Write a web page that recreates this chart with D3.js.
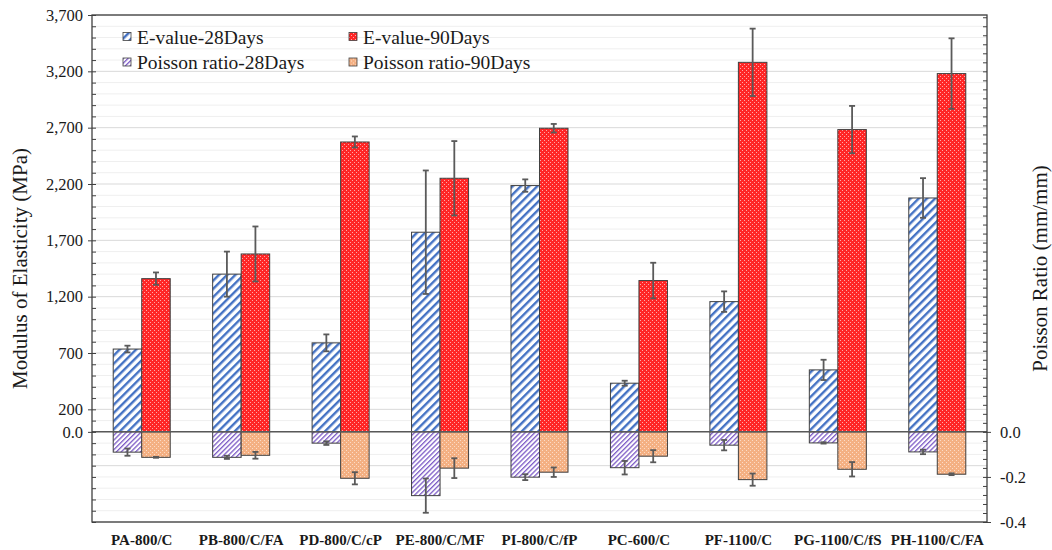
<!DOCTYPE html>
<html>
<head>
<meta charset="utf-8">
<script src="https://cdn.jsdelivr.net/npm/d3@7"></script>
<style>
  body { margin: 0; background: #fff; }
  .chart text { font-family: "Liberation Serif", "Times New Roman", serif; fill: #1a1a1a; }
</style>
</head>
<body>
<div class="chart"></div>
<script>
// values
const categories = ["PA-800/C", "PB-800/C/FA", "PD-800/C/cP", "PE-800/C/MF", "PI-800/C/fP",
  "PC-600/C", "PF-1100/C", "PG-1100/C/fS", "PH-1100/C/FA"];
const eValue28 = [735, 1400, 790, 1772, 2186, 432, 1156, 550, 2076];
const eValue28Err = [30, 200, 75, 548, 55, 22, 91, 90, 176];
const eValue90 = [1360, 1579, 2573, 2251, 2695, 1343, 3280, 2683, 3180];
const eValue90Err = [55, 244, 49, 330, 38, 158, 299, 210, 313];
const poisson28 = [-0.090, -0.113, -0.050, -0.283, -0.201, -0.159, -0.059, -0.049, -0.089];
const poisson28Err = [0.016, 0.007, 0.008, 0.076, 0.013, 0.030, 0.023, 0.003, 0.010];
const poisson90 = [-0.113, -0.104, -0.206, -0.161, -0.179, -0.108, -0.212, -0.166, -0.188];
const poisson90Err = [0.002, 0.015, 0.027, 0.044, 0.021, 0.027, 0.027, 0.032, 0.004];
const leftTicks = [0, 200, 700, 1200, 1700, 2200, 2700, 3200, 3700];
const rightTicks = [0, -0.2, -0.4];
const seriesNames = ["E-value-28Days", "E-value-90Days", "Poisson ratio-28Days", "Poisson ratio-90Days"];

class Chart {
  constructor() {
    this.sizes = {
      width: 1052,
      height: 550,
      margin: { top: 15, right: 65, bottom: 28, left: 92 }
    };
    this.render();
  }

  render() {
    this.drawCanvas().addPatterns().createScale().addGrid().addBars().addErrorBars().addAxis().addLegend();
  }

  drawCanvas() {
    const { width, height } = this.sizes;
    this.svg = d3.select(".chart").append("svg").attr("width", width).attr("height", height);
    return this;
  }

  addPatterns() {
    const defs = this.svg.append("defs");

    const stripes = (id, size, thick, color) => {
      const p = defs.append("pattern").attr("id", id)
        .attr("patternUnits", "userSpaceOnUse")
        .attr("width", size).attr("height", size)
        .attr("patternTransform", "rotate(45)");
      p.append("rect").attr("width", size).attr("height", size).attr("fill", "#fff");
      p.append("rect").attr("width", thick).attr("height", size).attr("fill", color);
    };
    stripes("blueStripe", 5.8, 2.4, "#4472c4");
    stripes("purpleStripe", 3.4, 1.3, "#7d5bc6");

    const dots = (id, base, dot) => {
      const p = defs.append("pattern").attr("id", id)
        .attr("patternUnits", "userSpaceOnUse")
        .attr("width", 4).attr("height", 4);
      p.append("rect").attr("width", 4).attr("height", 4).attr("fill", base);
      p.append("rect").attr("width", 1).attr("height", 1).attr("fill", dot);
      p.append("rect").attr("x", 2).attr("y", 2).attr("width", 1).attr("height", 1).attr("fill", dot);
    };
    dots("redDots", "#ff2626", "#ffa8a8");
    dots("orangeDots", "#f4b083", "#fbdcc6");
    return this;
  }

  createScale() {
    const { width, height, margin } = this.sizes;
    this.left = margin.left;
    this.right = width - margin.right;
    this.top = margin.top;
    this.bottom = height - margin.bottom;

    this.xScale = d3.scaleBand().domain(categories).range([this.left, this.right]).padding(0);
    this.xSub = d3.scaleBand().domain(["d28", "d90"])
      .range([0, this.xScale.bandwidth()])
      .paddingInner(0).paddingOuter(0.744);

    this.yLeft = d3.scaleLinear().domain([-800, 3700]).range([this.bottom, this.top]);
    this.yRight = d3.scaleLinear().domain([-0.4, 1.85]).range([this.bottom, this.top]);
    return this;
  }

  addGrid() {
    const levels = d3.range(-8, 38).map(i => i * 100);
    this.svg.append("g").attr("class", "grid")
      .selectAll("line")
      .data(levels)
      .join("line")
      .attr("x1", this.left).attr("x2", this.right)
      .attr("y1", d => this.yLeft(d)).attr("y2", d => this.yLeft(d))
      .attr("stroke", d => ((d - 200) % 500 === 0 ? "#d9d9d9" : "#efefef"))
      .attr("stroke-width", 1);
    return this;
  }

  barData() {
    const rows = [];
    categories.forEach((c, i) => {
      rows.push({ cat: c, sub: "d28", v: eValue28[i], err: eValue28Err[i], y: this.yLeft, fill: "url(#blueStripe)" });
      rows.push({ cat: c, sub: "d90", v: eValue90[i], err: eValue90Err[i], y: this.yLeft, fill: "url(#redDots)" });
      rows.push({ cat: c, sub: "d28", v: poisson28[i], err: poisson28Err[i], y: this.yRight, fill: "url(#purpleStripe)" });
      rows.push({ cat: c, sub: "d90", v: poisson90[i], err: poisson90Err[i], y: this.yRight, fill: "url(#orangeDots)" });
    });
    return rows;
  }

  addBars() {
    this.rows = this.barData();
    this.svg.append("g").attr("class", "bars")
      .selectAll("rect")
      .data(this.rows)
      .join("rect")
      .attr("x", d => this.xScale(d.cat) + this.xSub(d.sub))
      .attr("width", this.xSub.bandwidth())
      .attr("y", d => Math.min(d.y(d.v), d.y(0)))
      .attr("height", d => Math.abs(d.y(d.v) - d.y(0)))
      .attr("fill", d => d.fill)
      .attr("stroke", "#404040")
      .attr("stroke-width", 1);

    // zero line
    this.svg.append("line")
      .attr("x1", this.left).attr("x2", this.right)
      .attr("y1", this.yLeft(0)).attr("y2", this.yLeft(0))
      .attr("stroke", "#595959").attr("stroke-width", 1.5);
    return this;
  }

  addErrorBars() {
    const cx = d => this.xScale(d.cat) + this.xSub(d.sub) + this.xSub.bandwidth() / 2;
    const g = this.svg.append("g").attr("class", "errors")
      .selectAll("g")
      .data(this.rows)
      .join("g")
      .attr("stroke", "#5a5a5a")
      .attr("stroke-width", 1.8);

    g.append("line")
      .attr("x1", cx).attr("x2", cx)
      .attr("y1", d => d.y(d.v - d.err)).attr("y2", d => d.y(d.v + d.err));
    g.append("line")
      .attr("x1", d => cx(d) - 3).attr("x2", d => cx(d) + 3)
      .attr("y1", d => d.y(d.v - d.err)).attr("y2", d => d.y(d.v - d.err));
    g.append("line")
      .attr("x1", d => cx(d) - 3).attr("x2", d => cx(d) + 3)
      .attr("y1", d => d.y(d.v + d.err)).attr("y2", d => d.y(d.v + d.err));
    return this;
  }

  addAxis() {
    const axisColor = "#404040";

    const yAxis = d3.axisLeft(this.yLeft).tickValues(leftTicks).tickSize(4).tickPadding(5)
      .tickFormat(d => (d === 0 ? "0.0" : d3.format(",")(d)));
    const yAxisGroup = this.svg.append("g").attr("transform", `translate(${this.left},0)`).call(yAxis);
    yAxisGroup.selectAll("text").style("font-size", "16.5px");

    const yMinor = d3.axisLeft(this.yLeft).tickValues(d3.range(-8, 38).map(i => i * 100))
      .tickSize(-4).tickFormat("");
    this.svg.append("g").attr("transform", `translate(${this.left},0)`).call(yMinor);

    const rAxis = d3.axisRight(this.yRight).tickValues(rightTicks).tickSize(4).tickPadding(9)
      .tickFormat(d => d.toFixed(1));
    const rAxisGroup = this.svg.append("g").attr("transform", `translate(${this.right},0)`).call(rAxis);
    rAxisGroup.selectAll("text").style("font-size", "16.5px");

    const rMinor = d3.axisRight(this.yRight).tickValues(d3.range(0, 57).map(i => -0.4 + i * 0.04))
      .tickSize(-4).tickFormat("");
    this.svg.append("g").attr("transform", `translate(${this.right},0)`).call(rMinor);

    this.svg.selectAll(".domain").remove();
    this.svg.selectAll(".tick line").attr("stroke", axisColor);

    // plot frame
    this.svg.append("rect")
      .attr("x", this.left).attr("y", this.top)
      .attr("width", this.right - this.left).attr("height", this.bottom - this.top)
      .attr("fill", "none").attr("stroke", axisColor).attr("stroke-width", 1.3);

    // category labels
    this.svg.append("g").selectAll("text")
      .data(categories)
      .join("text")
      .attr("x", d => this.xScale(d) + this.xScale.bandwidth() / 2)
      .attr("y", 545)
      .attr("text-anchor", "middle")
      .style("font-size", "15px")
      .style("font-weight", "bold")
      .text(d => d);

    const midY = (this.top + this.bottom) / 2;
    this.svg.append("text")
      .attr("transform", `translate(27,${midY}) rotate(-90)`)
      .attr("text-anchor", "middle")
      .style("font-size", "21px")
      .text("Modulus of Elasticity (MPa)");
    this.svg.append("text")
      .attr("transform", `translate(1047,${midY}) rotate(-90)`)
      .attr("text-anchor", "middle")
      .style("font-size", "21px")
      .text("Poisson Ratio (mm/mm)");
    return this;
  }

  addLegend() {
    const fills = ["url(#blueStripe)", "url(#redDots)", "url(#purpleStripe)", "url(#orangeDots)"];
    const colX = [123, 349];
    const rowY = [37, 62.5];
    const items = seriesNames.map((name, i) => ({ name, fill: fills[i], x: colX[i % 2], y: rowY[Math.floor(i / 2)] }));

    const legend = this.svg.append("g").attr("id", "legend")
      .selectAll("g")
      .data(items)
      .join("g")
      .attr("transform", d => `translate(${d.x},${d.y})`);

    legend.append("rect")
      .attr("x", 0).attr("y", -4.5)
      .attr("width", 8).attr("height", 8)
      .attr("fill", d => d.fill)
      .attr("stroke", "#404040").attr("stroke-width", 0.8);

    legend.append("text")
      .attr("x", 14).attr("y", 6.5)
      .style("font-size", "19.5px")
      .text(d => d.name);
    return this;
  }
}

new Chart();
</script>
</body>
</html>
